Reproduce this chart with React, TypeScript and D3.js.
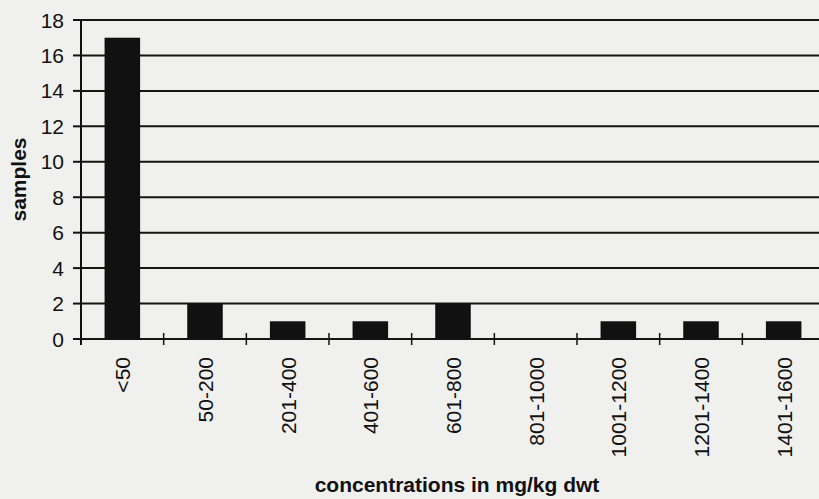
import { useEffect, useRef } from "react"
import * as d3 from "d3"

const categories = ["<50", "50-200", "201-400", "401-600", "601-800", "801-1000", "1001-1200", "1201-1400", "1401-1600"]
const samples = [17, 2, 1, 1, 2, 0, 1, 1, 1]
const yTicks = [0, 2, 4, 6, 8, 10, 12, 14, 16, 18]

export default function App() {
  const svgRef = useRef<SVGSVGElement>(null)

  useEffect(() => {
    if (!svgRef.current) return
    const width = 819
    const height = 499
    const margin = { top: 20, left: 81, bottom: 160, right: -6 }

    const svg = d3.select(svgRef.current)
    svg.selectAll("*").remove()
    svg.attr("width", width).attr("height", height)

    // paper background
    svg.append("rect").attr("width", width).attr("height", height).attr("fill", "#f0f0ee")

    const x = d3.scaleBand<string>()
      .domain(categories)
      .range([margin.left, width - margin.right])
      .padding(0)

    const y = d3.scaleLinear()
      .domain([0, 18])
      .range([height - margin.bottom, margin.top])

    const g = svg.append("g")
    const font = "'Liberation Sans', Arial, Helvetica, sans-serif"

    // gridlines
    g.selectAll(".grid")
      .data(yTicks)
      .enter()
      .append("line")
      .attr("x1", margin.left)
      .attr("x2", width - margin.right)
      .attr("y1", d => y(d))
      .attr("y2", d => y(d))
      .attr("stroke", "#151515")
      .attr("stroke-width", 2)

    // bars
    const barW = x.bandwidth() * 0.43
    g.selectAll(".bar")
      .data(samples)
      .enter()
      .append("rect")
      .attr("x", (d, i) => x(categories[i])! + (x.bandwidth() - barW) / 2)
      .attr("y", d => y(d))
      .attr("width", barW)
      .attr("height", d => y(0) - y(d))
      .attr("fill", "#111")

    // y axis line
    g.append("line")
      .attr("x1", margin.left).attr("x2", margin.left)
      .attr("y1", y(18)).attr("y2", y(0) + 6)
      .attr("stroke", "#111").attr("stroke-width", 2)

    // y ticks + labels
    g.selectAll(".ytick")
      .data(yTicks)
      .enter()
      .append("line")
      .attr("x1", margin.left - 8).attr("x2", margin.left)
      .attr("y1", d => y(d)).attr("y2", d => y(d))
      .attr("stroke", "#111").attr("stroke-width", 2)

    g.selectAll(".ylabel")
      .data(yTicks)
      .enter()
      .append("text")
      .attr("x", 64)
      .attr("y", d => y(d))
      .attr("dy", "0.36em")
      .attr("text-anchor", "end")
      .attr("font-family", font)
      .attr("font-size", "21px")
      .attr("fill", "#111")
      .text(d => d)

    // x ticks at band boundaries
    const bounds = categories.map(c => x(c)!).concat([x(categories[categories.length - 1])! + x.bandwidth()])
    g.selectAll(".xtick")
      .data(bounds.slice(1))
      .enter()
      .append("line")
      .attr("x1", d => d).attr("x2", d => d)
      .attr("y1", y(0) - 6).attr("y2", y(0) + 6)
      .attr("stroke", "#111").attr("stroke-width", 1.5)

    // x labels
    g.selectAll(".xlabel")
      .data(categories)
      .enter()
      .append("text")
      .attr("transform", d => `translate(${x(d)! + x.bandwidth() / 2 + 8},${y(0) + 18}) rotate(-90)`)
      .attr("text-anchor", "end")
      .attr("font-family", font)
      .attr("font-size", "21px")
      .attr("fill", "#111")
      .text(d => d)

    // axis titles
    svg.append("text")
      .attr("transform", `translate(26,${(y(0) + y(18)) / 2}) rotate(-90)`)
      .attr("text-anchor", "middle")
      .attr("font-family", font)
      .attr("font-size", "21px")
      .attr("font-weight", "bold")
      .attr("fill", "#111")
      .text("samples")

    svg.append("text")
      .attr("x", 457)
      .attr("y", 492)
      .attr("text-anchor", "middle")
      .attr("font-family", font)
      .attr("font-size", "21px")
      .attr("font-weight", "bold")
      .attr("fill", "#111")
      .text("concentrations in mg/kg dwt")
  }, [])

  return (
    <div style={{ position: "fixed", left: 0, top: 0 }}>
      <svg ref={svgRef} style={{ display: "block" }} />
    </div>
  )
}
